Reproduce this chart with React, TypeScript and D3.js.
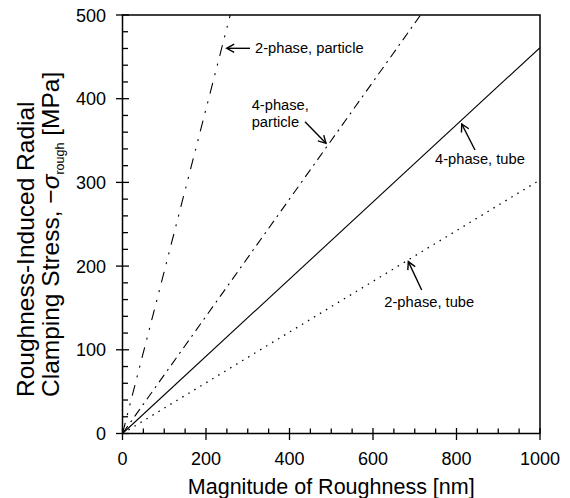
import React from 'react';
import * as d3 from 'd3';

// ---- data ----
const xTickValues = [0, 200, 400, 600, 800, 1000];
const yTickValues = [0, 100, 200, 300, 400, 500];
const xMinorStep = 50;
const yMinorStep = 20;

const roughness2PhaseParticle = [0, 258];
const stress2PhaseParticle = [0, 500];
const roughness4PhaseParticle = [0, 714];
const stress4PhaseParticle = [0, 500];
const roughness4PhaseTube = [0, 1000];
const stress4PhaseTube = [0, 461];
const roughness2PhaseTube = [0, 1000];
const stress2PhaseTube = [0, 303];

const seriesLabels = ['2-phase, particle', '4-phase, particle', '4-phase, tube', '2-phase, tube'];

const W = 570;
const H = 498;
const M = { left: 122.5, right: 540, top: 15, bottom: 433.5 };

const x = d3.scaleLinear().domain([0, 1000]).range([M.left, M.right]);
const y = d3.scaleLinear().domain([0, 500]).range([M.bottom, M.top]);

const series = [
  { xs: roughness2PhaseParticle, ys: stress2PhaseParticle, dash: '11,8,2,8,2,8' },
  { xs: roughness4PhaseParticle, ys: stress4PhaseParticle, dash: '9,5,2,5' },
  { xs: roughness4PhaseTube, ys: stress4PhaseTube, dash: null },
  { xs: roughness2PhaseTube, ys: stress2PhaseTube, dash: '1.5,5.5' },
];

// annotation anchors in data coordinates
const annotations = [
  { lines: [seriesLabels[0]], text: [317.4, 455.0], tail: [305.4, 460.2], tip: [249.6, 460.2] },
  { lines: ['4-phase,', 'particle'], text: [309.5, 386.5], tail: [437.1, 372.5], tip: [487.4, 346.7] },
  { lines: [seriesLabels[2]], text: [748.5, 322.0], tail: [844.3, 338.7], tip: [812.5, 369.8] },
  { lines: [seriesLabels[3]], text: [627.1, 151.5], tail: [716.6, 171.4], tip: [684.6, 205.3] },
];

const FONT = "'Liberation Sans', Arial, Helvetica, sans-serif";

function Arrow({ tail, tip }: { tail: number[]; tip: number[] }) {
  const x1 = x(tail[0]), y1 = y(tail[1]), x2 = x(tip[0]), y2 = y(tip[1]);
  const ang = Math.atan2(y2 - y1, x2 - x1);
  const L = 8.5, a = 0.5;
  const p1 = [x2 - L * Math.cos(ang - a), y2 - L * Math.sin(ang - a)];
  const p2 = [x2 - L * Math.cos(ang + a), y2 - L * Math.sin(ang + a)];
  return (
    <g stroke="#000" strokeWidth={1.4} fill="none">
      <line x1={x1} y1={y1} x2={x2} y2={y2} />
      <polyline points={`${p1[0]},${p1[1]} ${x2},${y2} ${p2[0]},${p2[1]}`} strokeLinejoin="miter" />
    </g>
  );
}

export default function App() {
  const line = d3.line<[number, number]>().x(d => x(d[0])).y(d => y(d[1]));
  const xMinor = d3.range(0, 1000 + 1, xMinorStep).filter(v => !xTickValues.includes(v));
  const yMinor = d3.range(0, 500 + 1, yMinorStep).filter(v => !yTickValues.includes(v));

  return (
    <svg width={W} height={H} style={{ position: 'absolute', left: 0, top: 0, background: '#fff' }} fontFamily={FONT}>
      <defs>
        <clipPath id="plotclip">
          <rect x={M.left} y={M.top} width={M.right - M.left} height={M.bottom - M.top} />
        </clipPath>
      </defs>
      <rect x={0} y={0} width={W} height={H} fill="#fff" />

      {/* data lines */}
      <g clipPath="url(#plotclip)">
        {series.map((s, i) => (
          <path
            key={i}
            d={line(s.xs.map((v, j) => [v, s.ys[j]] as [number, number])) || ''}
            fill="none"
            stroke="#000"
            strokeWidth={s.dash === '1.5,5.5' ? 1.3 : 1.1}
            strokeDasharray={s.dash || undefined}
          />
        ))}
      </g>

      {/* frame */}
      <rect x={M.left} y={M.top} width={M.right - M.left} height={M.bottom - M.top} fill="none" stroke="#000" strokeWidth={1.5} />

      {/* ticks */}
      <g stroke="#000" strokeWidth={1.3}>
        {xTickValues.map(v => (
          <line key={'xM' + v} x1={x(v)} x2={x(v)} y1={M.bottom - 5.5} y2={M.bottom + 6.5} />
        ))}
        {xMinor.map(v => (
          <line key={'xm' + v} x1={x(v)} x2={x(v)} y1={M.bottom - 5} y2={M.bottom} />
        ))}
        {yTickValues.map(v => (
          <line key={'yM' + v} x1={M.left - 6.5} x2={M.left + 6.5} y1={y(v)} y2={y(v)} />
        ))}
        {yMinor.map(v => (
          <line key={'ym' + v} x1={M.left} x2={M.left + 5.5} y1={y(v)} y2={y(v)} />
        ))}
      </g>

      {/* tick labels */}
      <g fontSize={18} fill="#000">
        {xTickValues.map(v => (
          <text key={'xl' + v} x={x(v)} y={465} textAnchor="middle">{v}</text>
        ))}
        {yTickValues.map(v => (
          <text key={'yl' + v} x={106} y={y(v) + 6.5} textAnchor="end">{v}</text>
        ))}
      </g>

      {/* axis titles */}
      <text x={(M.left + M.right) / 2} y={494} textAnchor="middle" fontSize={21.5} fill="#000">
        Magnitude of Roughness [nm]
      </text>
      <g transform="translate(33.5,397) rotate(-90)">
        <text x={0} y={0} textAnchor="start" fontSize={24.5} fill="#000">Roughness-Induced Radial</text>
      </g>
      <g transform="translate(59,397) rotate(-90)">
        <text x={0} y={0} textAnchor="start" fontSize={24.5} fill="#000">
          <tspan>Clamping Stress, −</tspan>
          <tspan fontStyle="italic">σ</tspan>
          <tspan fontSize={12.5} dy={5}>rough</tspan>
          <tspan dy={-5}> [MPa]</tspan>
        </text>
      </g>

      {/* annotations */}
      {annotations.map((a, i) => (
        <g key={'ann' + i}>
          <text x={x(a.text[0])} y={y(a.text[1])} fontSize={14.7} fill="#000">
            {a.lines.map((t, j) => (
              <tspan key={j} x={x(a.text[0])} dy={j === 0 ? 0 : 16.7}>{t}</tspan>
            ))}
          </text>
          <Arrow tail={a.tail} tip={a.tip} />
        </g>
      ))}
    </svg>
  );
}
